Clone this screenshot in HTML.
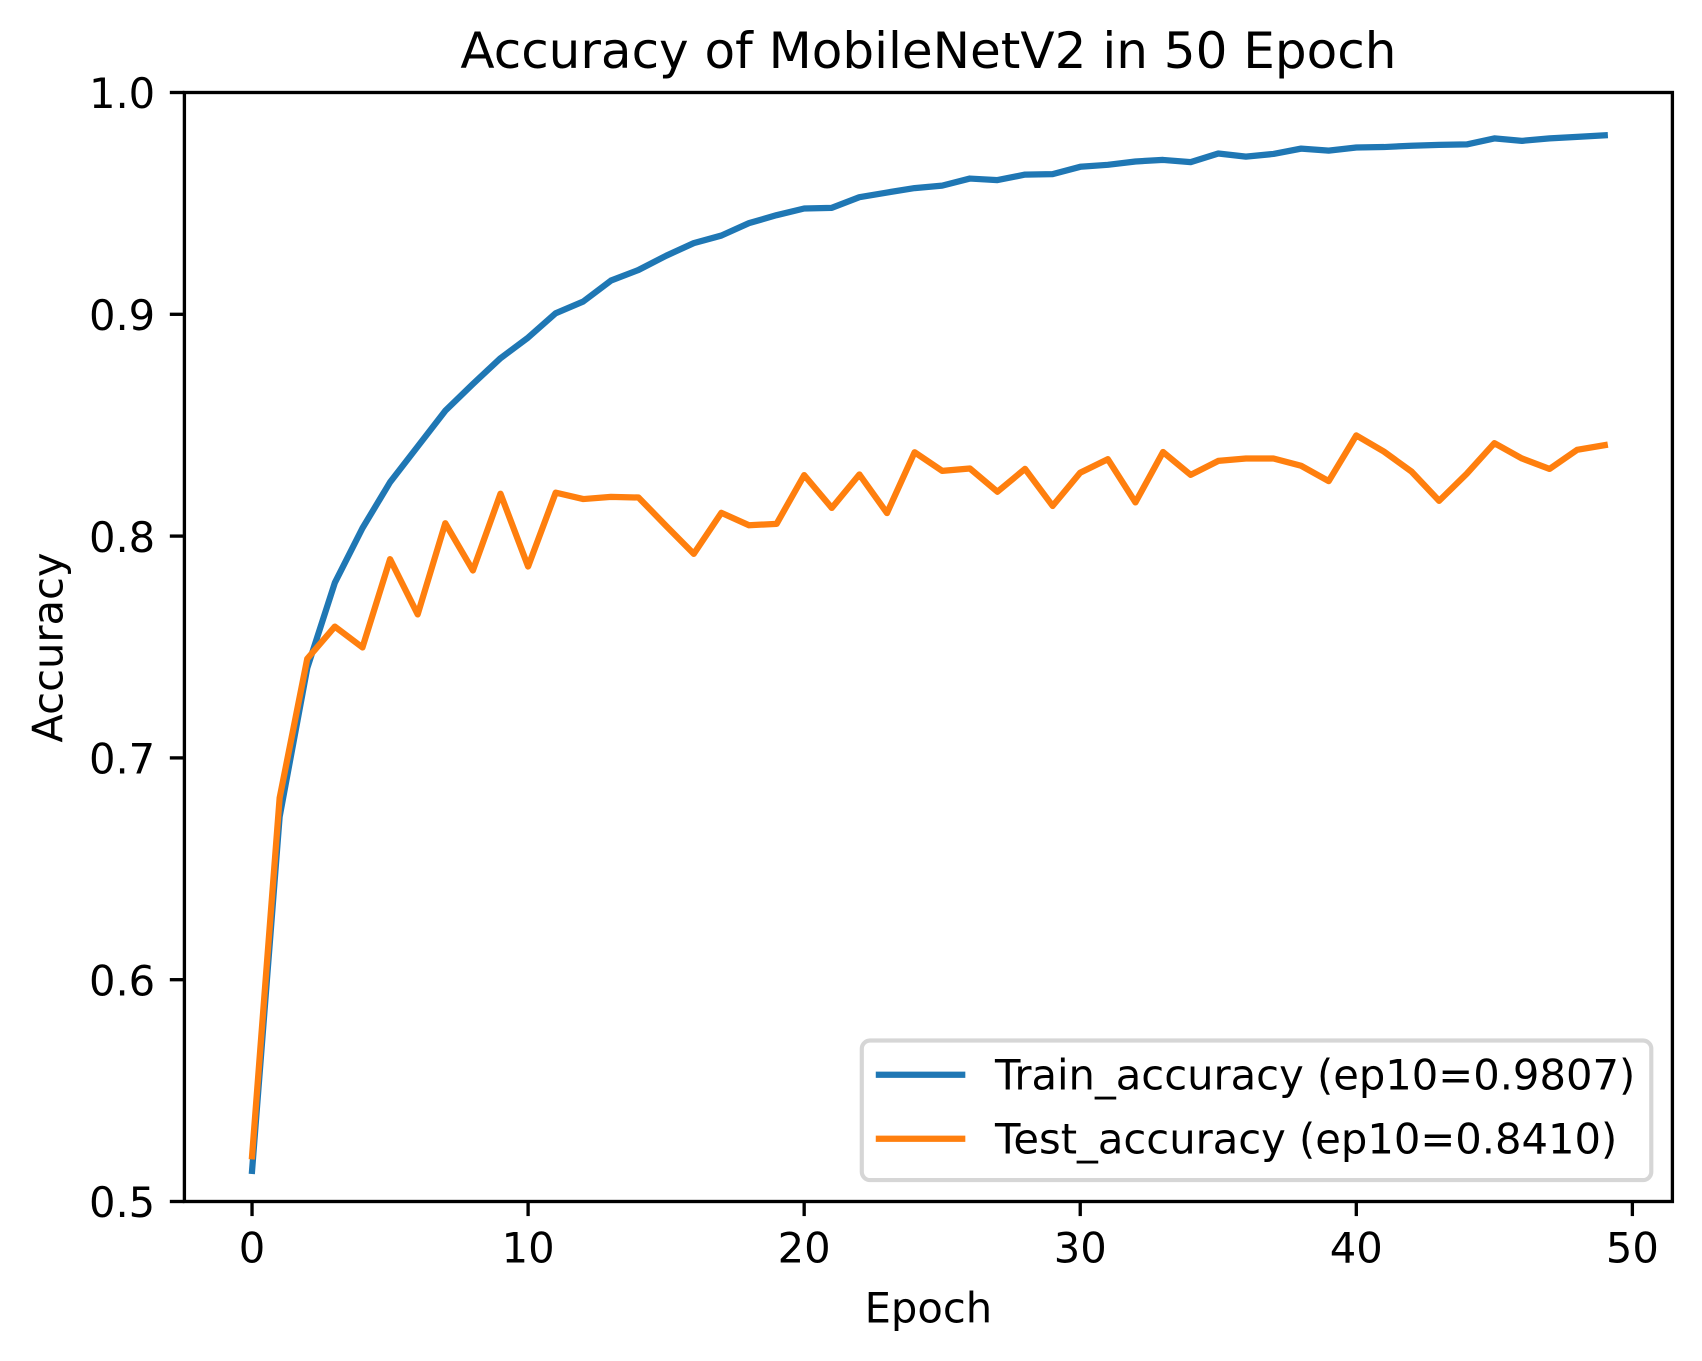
<!DOCTYPE html>
<html lang="en">
<head>
<meta charset="utf-8">
<title>Accuracy of MobileNetV2 in 50 Epoch</title>
<style>
html,body{margin:0;padding:0;background:#fff;width:1702px;height:1361px;overflow:hidden}
svg{display:block}
text{font-family:"DejaVu Sans",sans-serif;fill:#000}
</style>
</head>
<body>
<svg id="chart" xmlns="http://www.w3.org/2000/svg" width="1702" height="1361" viewBox="0 0 1702 1361">
  <rect x="0" y="0" width="1702" height="1361" fill="#fff"/>
  <g id="series"></g>
  <g id="axes"></g>
  <text x="928.4" y="68.2" text-anchor="middle" font-size="50">Accuracy of MobileNetV2 in 50 Epoch</text>
  <text x="928.4" y="1322.3" text-anchor="middle" font-size="41.67">Epoch</text>
  <text transform="translate(62.5 647.5) rotate(-90)" text-anchor="middle" font-size="41.67">Accuracy</text>
  <g>
    <rect x="861.8" y="1040.5" width="789.5" height="139.6" rx="8.3" ry="8.3" fill="#fff" fill-opacity="0.8" stroke="#cccccc" stroke-opacity="0.8" stroke-width="4.17"/>
    <line x1="878.9" y1="1074.7" x2="962.2" y2="1074.7" stroke="#1f77b4" stroke-width="6.25" stroke-linecap="square"/>
    <text x="995" y="1089.3" font-size="41.67">Train_accuracy (ep10=0.9807)</text>
    <line x1="878.9" y1="1138.7" x2="962.2" y2="1138.7" stroke="#ff7f0e" stroke-width="6.25" stroke-linecap="square"/>
    <text x="995" y="1153.3" font-size="41.67">Test_accuracy (ep10=0.8410)</text>
  </g>
</svg>
<script>
const trainAccuracy = [0.5138,0.6735,0.7405,0.779,0.8036,0.8243,0.8404,0.8565,0.8686,0.8802,0.8895,0.9005,0.9058,0.9152,0.92,0.9264,0.9321,0.9355,0.9411,0.9447,0.9477,0.948,0.9528,0.9549,0.9569,0.958,0.9612,0.9605,0.963,0.9632,0.9665,0.9674,0.9689,0.9696,0.9686,0.9725,0.9711,0.9723,0.9747,0.9738,0.9752,0.9754,0.976,0.9764,0.9766,0.9793,0.9782,0.9793,0.98,0.9807];
const testAccuracy = [0.5204,0.682,0.7447,0.7592,0.7498,0.7896,0.7647,0.8058,0.7845,0.8191,0.7863,0.8196,0.8167,0.8177,0.8174,0.8046,0.792,0.8105,0.8049,0.8055,0.8275,0.8127,0.8278,0.8104,0.8378,0.8294,0.8305,0.82,0.8303,0.8136,0.8286,0.8347,0.8152,0.8379,0.8276,0.8339,0.835,0.835,0.8317,0.8248,0.8454,0.8381,0.8291,0.8159,0.8281,0.8419,0.835,0.8303,0.8389,0.841];
const xTicks = [0,10,20,30,40,50];
const yTicks = [0.5,0.6,0.7,0.8,0.9,1.0];

const NS = 'http://www.w3.org/2000/svg';
const left = 184.4, right = 1672.4, top_ = 92.5, bottom = 1201.5;
const xMin = -2.45, xMax = 51.45, yMin = 0.5, yMax = 1.0;
const xScale = v => left + (v - xMin) / (xMax - xMin) * (right - left);
const yScale = v => bottom - (v - yMin) / (yMax - yMin) * (bottom - top_);
const seriesLayer = document.getElementById('series');
const axesLayer = document.getElementById('axes');

function make(tag, attrs, parent) {
  const el = document.createElementNS(NS, tag);
  for (const k in attrs) el.setAttribute(k, attrs[k]);
  parent.appendChild(el);
  return el;
}

function drawSeries(values, color) {
  const pts = values.map((v, i) => xScale(i).toFixed(2) + ',' + yScale(v).toFixed(2)).join(' ');
  return make('polyline', {points: pts, fill: 'none', stroke: color, 'stroke-width': 6.25, 'stroke-linecap': 'square', 'stroke-linejoin': 'round'}, seriesLayer);
}

const trainLine = drawSeries(trainAccuracy, '#1f77b4');


const testLine = drawSeries(testAccuracy, '#ff7f0e');



xTicks.forEach(t => {
  const x = xScale(t);
  const tick = make('line', {x1: x, x2: x, y1: bottom, y2: bottom + 14.58, stroke: '#000', 'stroke-width': 3.33}, axesLayer);
  
  
  const label = make('text', {x: x, y: 1262.7, 'text-anchor': 'middle', 'font-size': 41.67}, axesLayer);
  label.textContent = String(t);
  
  
});

yTicks.forEach(t => {
  const y = yScale(t);
  const tick = make('line', {x1: left - 14.58, x2: left, y1: y, y2: y, stroke: '#000', 'stroke-width': 3.33}, axesLayer);
  
  
  const label = make('text', {x: 155.2, y: y + 15.7, 'text-anchor': 'end', 'font-size': 41.67}, axesLayer);
  label.textContent = t.toFixed(1);
  
  
});

const frame = make('rect', {x: left, y: top_, width: right - left, height: bottom - top_, fill: 'none', stroke: '#000', 'stroke-width': 3.33, 'stroke-linejoin': 'miter'}, axesLayer);


</script>
</body>
</html>
